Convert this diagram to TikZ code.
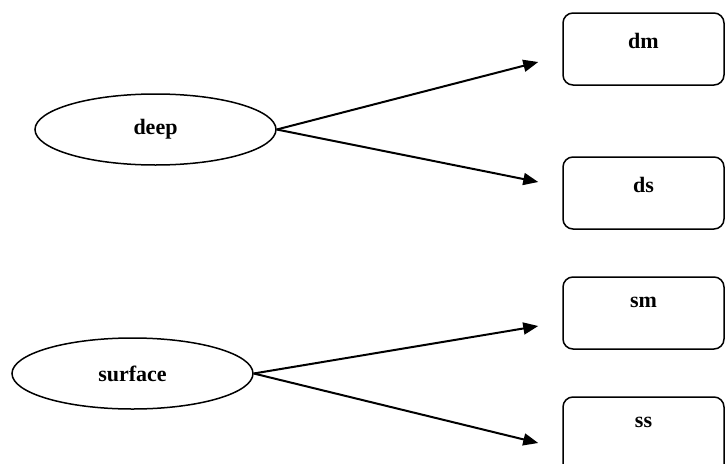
\documentclass[tikz,border=0pt]{standalone}
\usepackage{fontspec}
\setmainfont{Liberation Serif}
\usetikzlibrary{shapes.geometric,arrows.meta}
\begin{document}
\begin{tikzpicture}[x=1pt,y=-1pt,
  every node/.style={font=\fontsize{22}{26}\selectfont\bfseries},
  level/.style={draw,ellipse,line width=1.5pt,minimum width=241pt,minimum height=71pt,inner sep=0pt},
  leaf/.style={draw,rounded corners=10pt,line width=1.5pt,minimum width=161pt,minimum height=72pt,inner sep=0pt},
  tag/.style={anchor=north,inner sep=0pt,yshift=-21pt},
  arr/.style={line width=2pt,-{Triangle[length=15pt,width=12pt]}}]
  \useasboundingbox (0,0) rectangle (725,463);
  % two source ellipses
  \node[level] (deep) at (155.5,129.5) {deep};
  \node[level] (surface) at (132.5,373.5) {surface};
  % target boxes, labels set near the top edge
  \node[leaf] (dm) at (643.5,49) {};
  \node[tag] (dmt) at (dm.north) {dm};
  \node[leaf] (ds) at (643.5,193) {};
  \node[tag] (dst) at (ds.north) {ds};
  \node[leaf] (sm) at (643.5,313) {};
  \node[tag] (smt) at (sm.north) {sm};
  \node[leaf,minimum height=84pt] (ss) at (643.5,439) {};
  \node[tag] (sst) at (ss.north) {ss};
  % connectors
  \draw[arr] (deep.east) -- ([xshift=-24pt,yshift=-13pt]dm.west);
  \draw[arr] (deep.east) -- ([xshift=-24pt,yshift=11pt]ds.west);
  \draw[arr] (surface.east) -- ([xshift=-24pt,yshift=-13pt]sm.west);
  \draw[arr] (surface.east) -- ([xshift=-24pt,yshift=-4pt]ss.west);
\end{tikzpicture}
\end{document}
